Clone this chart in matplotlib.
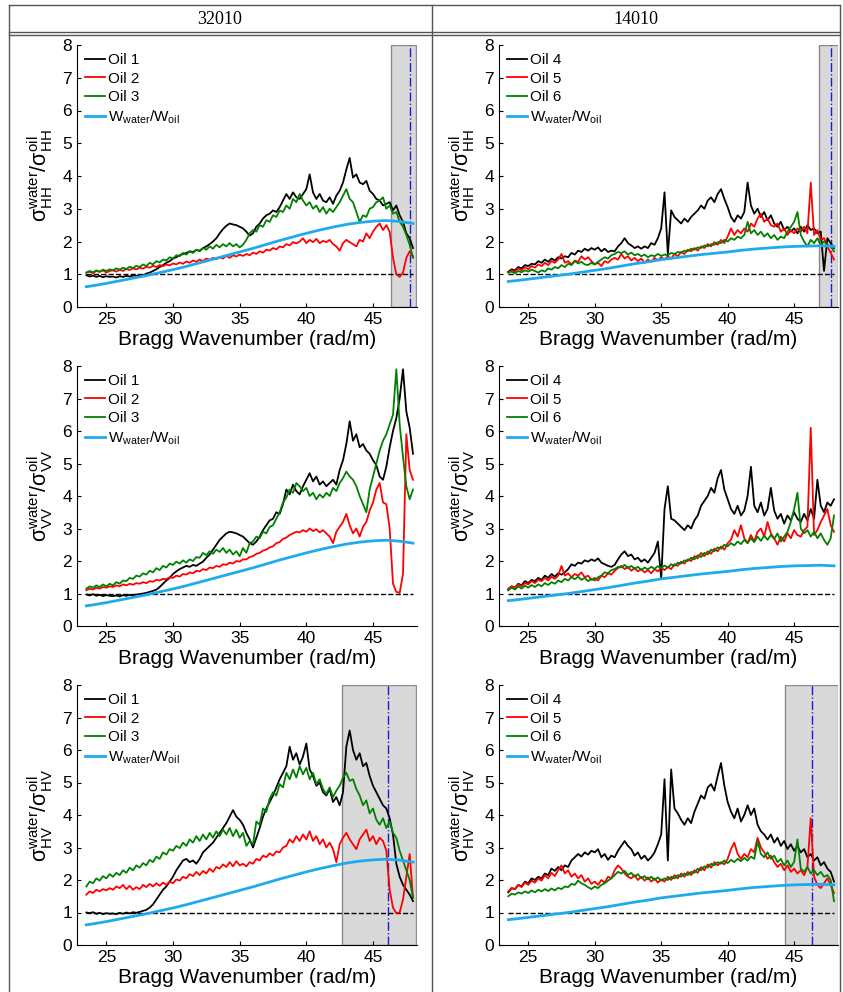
import numpy as np
import matplotlib
matplotlib.use('Agg')
import matplotlib.pyplot as plt
from matplotlib.lines import Line2D

plt.rcParams['font.family'] = ['Liberation Sans', 'DejaVu Sans']
plt.rcParams['mathtext.fontset'] = 'custom'
plt.rcParams['mathtext.rm'] = 'Liberation Sans'
plt.rcParams['mathtext.it'] = 'Liberation Sans:italic'
plt.rcParams['mathtext.bf'] = 'Liberation Sans:bold'

# Bragg wavenumber grid (rad/m) for the measured ratios
k = np.arange(23.5, 48.001, 0.25)

# damping ratio W_water/W_oil (smooth model curve), one per column
k_w = [23.5, 24, 25, 26, 27, 28, 29, 30, 31, 32, 33, 34, 35, 36,
       37, 38, 39, 40, 41, 42, 43, 44, 45, 46, 47, 48]
w_32010 = [0.62, 0.65, 0.72, 0.80, 0.88, 0.96, 1.05, 1.14, 1.24, 1.35, 1.46, 1.57, 1.68,
           1.79, 1.91, 2.03, 2.14, 2.25, 2.35, 2.44, 2.52, 2.58, 2.62, 2.64, 2.61, 2.55]
w_14010 = [0.78, 0.80, 0.85, 0.90, 0.95, 1.00, 1.06, 1.12, 1.18, 1.25, 1.32, 1.38, 1.45,
           1.50, 1.55, 1.60, 1.64, 1.68, 1.73, 1.77, 1.80, 1.83, 1.85, 1.86, 1.87, 1.85]

# ---- HH, scene 32010
hh_oil1 = [0.97, 0.93, 0.96, 0.92, 0.95, 0.91, 0.94, 0.92,
           0.93, 0.90, 0.94, 0.92, 0.95, 0.93, 0.96, 0.95,
           0.98, 0.96, 1.02, 1.05, 1.10, 1.15, 1.22, 1.28,
           1.35, 1.40, 1.48, 1.52, 1.58, 1.62, 1.65, 1.70,
           1.68, 1.74, 1.72, 1.80, 1.85, 1.92, 2.00, 2.10,
           2.25, 2.38, 2.48, 2.55, 2.52, 2.50, 2.45, 2.40,
           2.30, 2.18, 2.25, 2.45, 2.55, 2.70, 2.80, 2.85,
           2.95, 2.90, 3.05, 3.25, 3.45, 3.30, 3.50, 3.35,
           3.30, 3.45, 3.60, 4.05, 3.50, 3.30, 3.45, 3.25,
           3.20, 3.35, 3.15, 3.40, 3.55, 3.80, 4.20, 4.55,
           3.95, 4.05, 3.80, 3.75, 3.85, 3.55, 3.45, 3.30,
           3.25, 3.10, 3.15, 3.20, 2.95, 3.10, 2.80, 2.60,
           2.25, 2.10, 1.80]
hh_oil2 = [1.05, 1.08, 1.03, 1.10, 1.07, 1.12, 1.05, 1.10,
           1.12, 1.08, 1.14, 1.10, 1.16, 1.13, 1.18, 1.15,
           1.20, 1.17, 1.23, 1.20, 1.26, 1.22, 1.28, 1.25,
           1.30, 1.27, 1.33, 1.30, 1.36, 1.32, 1.39, 1.35,
           1.42, 1.38, 1.45, 1.40, 1.48, 1.44, 1.50, 1.46,
           1.52, 1.48, 1.56, 1.50, 1.58, 1.54, 1.60, 1.56,
           1.62, 1.58, 1.66, 1.62, 1.70, 1.66, 1.75, 1.72,
           1.80, 1.76, 1.85, 1.82, 1.92, 1.88, 1.98, 1.94,
           2.00, 2.10, 1.95, 2.05, 1.98, 2.08, 1.95, 2.02,
           1.98, 2.05, 1.92, 1.85, 1.72, 1.95, 2.05, 1.98,
           1.92, 1.85, 2.05, 2.00, 2.25, 2.10, 2.30, 2.45,
           2.55, 2.35, 2.50, 2.30, 1.50, 1.00, 0.92, 1.05,
           1.50, 1.70, 1.55]
hh_oil3 = [1.05, 1.10, 1.06, 1.12, 1.08, 1.14, 1.10, 1.15,
           1.12, 1.18, 1.14, 1.20, 1.16, 1.23, 1.19, 1.26,
           1.22, 1.30, 1.25, 1.35, 1.30, 1.40, 1.36, 1.45,
           1.42, 1.52, 1.48, 1.58, 1.55, 1.65, 1.60, 1.70,
           1.65, 1.75, 1.70, 1.80, 1.75, 1.85, 1.78, 1.90,
           1.82, 1.92, 1.85, 1.95, 1.85, 1.92, 1.82, 1.90,
           2.05, 2.25, 2.35, 2.30, 2.50, 2.45, 2.65, 2.60,
           2.80, 2.75, 2.95, 2.90, 3.10, 3.00, 3.30, 3.20,
           3.45, 3.25, 3.10, 3.20, 3.00, 3.10, 2.90, 3.05,
           2.85, 3.00, 2.90, 3.05, 3.20, 3.40, 3.60, 3.30,
           3.20, 2.90, 2.60, 2.80, 2.75, 3.00, 3.05, 3.20,
           3.25, 3.35, 3.00, 3.10, 2.85, 2.90, 2.60, 2.45,
           2.20, 1.90, 1.50]

# ---- HH, scene 14010
hh_oil4 = [1.08, 1.15, 1.12, 1.22, 1.18, 1.28, 1.25, 1.32,
           1.30, 1.40, 1.35, 1.45, 1.38, 1.48, 1.42, 1.52,
           1.48, 1.55, 1.52, 1.65, 1.60, 1.72, 1.68, 1.78,
           1.72, 1.80, 1.75, 1.82, 1.70, 1.78, 1.68, 1.72,
           1.70, 1.85, 1.95, 2.10, 1.95, 1.88, 1.80, 1.85,
           1.78, 1.85, 1.80, 1.95, 1.90, 2.10, 2.40, 3.50,
           1.60, 2.95, 2.75, 2.65, 2.55, 2.70, 2.60, 2.75,
           2.85, 2.95, 3.10, 3.00, 3.25, 3.35, 3.20, 3.45,
           3.60, 3.30, 3.05, 2.75, 2.60, 2.80, 2.70, 2.90,
           3.80, 3.10, 2.85, 3.00, 2.75, 2.90, 2.65, 2.80,
           2.55, 2.45, 2.60, 2.35, 2.45, 2.30, 2.40, 2.25,
           2.45, 2.30, 2.50, 2.35, 2.40, 2.25, 2.30, 1.10,
           2.10, 1.95, 1.80]
hh_oil5 = [1.05, 1.12, 1.08, 1.18, 1.12, 1.22, 1.15, 1.25,
           1.20, 1.30, 1.25, 1.35, 1.28, 1.40, 1.35, 1.45,
           1.62, 1.35, 1.40, 1.30, 1.42, 1.38, 1.55, 1.45,
           1.52, 1.40, 1.30, 1.35, 1.25, 1.40, 1.35, 1.45,
           1.50, 1.45, 1.62, 1.48, 1.55, 1.42, 1.50, 1.40,
           1.48, 1.35, 1.45, 1.38, 1.50, 1.42, 1.52, 1.45,
           1.55, 1.48, 1.62, 1.55, 1.68, 1.62, 1.75, 1.70,
           1.80, 1.72, 1.85, 1.80, 1.92, 1.85, 1.98, 1.90,
           2.05, 1.95, 2.15, 2.40, 2.20, 2.35, 2.25, 2.40,
           2.30, 2.55, 2.45, 2.70, 2.85, 2.60, 2.70, 2.50,
           2.45, 2.55, 2.30, 2.40, 2.20, 2.35, 2.25, 2.40,
           2.30, 2.45, 2.25, 3.80, 2.20, 2.35, 2.05, 2.10,
           1.85, 1.65, 1.45]
hh_oil6 = [1.05, 1.08, 1.03, 1.10, 1.06, 1.12, 1.08, 1.14,
           1.10, 1.05, 1.12, 1.08, 1.18, 1.14, 1.22, 1.18,
           1.28, 1.22, 1.32, 1.28, 1.40, 1.33, 1.38, 1.30,
           1.28, 1.35, 1.30, 1.38, 1.45, 1.52, 1.48, 1.58,
           1.62, 1.68, 1.65, 1.70, 1.60, 1.66, 1.58, 1.62,
           1.55, 1.60, 1.52, 1.58, 1.55, 1.62, 1.56, 1.60,
           1.58, 1.65, 1.62, 1.68, 1.66, 1.72, 1.70, 1.78,
           1.75, 1.82, 1.80, 1.88, 1.85, 1.92, 1.90, 1.98,
           1.95, 2.05, 2.00, 2.10, 2.05, 2.15, 2.10, 2.20,
           2.60, 2.25, 2.35, 2.20, 2.30, 2.15, 2.25, 2.10,
           2.20, 2.05, 2.15, 2.10, 2.30, 2.45, 2.60, 2.90,
           2.20, 2.00, 1.85, 2.05, 1.95, 2.10, 1.90, 2.00,
           1.90, 1.85, 1.70]

# ---- VV, scene 32010
vv_oil1 = [0.97, 0.94, 0.98, 0.93, 0.96, 0.92, 0.95, 0.93,
           0.92, 0.94, 0.91, 0.95, 0.93, 0.96, 0.94, 0.97,
           0.98, 1.00, 1.02, 1.05, 1.08, 1.12, 1.20, 1.30,
           1.40, 1.48, 1.60, 1.68, 1.75, 1.80, 1.85, 1.82,
           1.88, 1.85, 1.92, 1.98, 2.10, 2.20, 2.35, 2.50,
           2.65, 2.75, 2.85, 2.90, 2.88, 2.85, 2.80, 2.75,
           2.65, 2.55, 2.50, 2.60, 2.75, 2.95, 3.10, 3.25,
           3.30, 3.50, 3.45, 3.75, 4.20, 4.05, 4.35, 4.15,
           4.05, 4.30, 4.50, 4.70, 4.45, 4.60, 4.35, 4.45,
           4.30, 4.40, 4.50, 4.35, 4.80, 5.10, 5.60, 6.30,
           5.70, 5.90, 5.50, 5.60, 5.40, 5.30, 5.10, 4.95,
           4.60, 4.50, 4.90, 5.50, 6.00, 6.40, 7.00, 7.90,
           6.60, 6.10, 5.30]
vv_oil2 = [1.10, 1.15, 1.12, 1.18, 1.15, 1.20, 1.18, 1.22,
           1.20, 1.25, 1.22, 1.28, 1.25, 1.30, 1.27, 1.32,
           1.30, 1.35, 1.32, 1.38, 1.36, 1.42, 1.40, 1.45,
           1.44, 1.50, 1.48, 1.55, 1.52, 1.60, 1.58, 1.65,
           1.62, 1.70, 1.68, 1.75, 1.72, 1.80, 1.78, 1.85,
           1.82, 1.90, 1.88, 1.95, 1.92, 2.00, 1.98, 2.05,
           2.05, 2.12, 2.15, 2.22, 2.25, 2.32, 2.35, 2.42,
           2.45, 2.55, 2.58, 2.68, 2.72, 2.80, 2.85, 2.90,
           2.88, 2.95, 2.90, 3.00, 2.92, 2.98, 2.88, 2.95,
           2.85, 2.75, 2.55, 2.90, 3.05, 3.20, 3.45, 3.10,
           2.85, 3.00, 2.75, 3.05, 3.20, 3.55, 3.80, 4.20,
           4.40, 3.80, 3.75, 3.00, 1.30, 1.05, 1.02, 1.60,
           5.90, 4.80, 4.50]
vv_oil3 = [1.15, 1.22, 1.18, 1.25, 1.20, 1.28, 1.22, 1.30,
           1.25, 1.35, 1.30, 1.40, 1.38, 1.48, 1.45, 1.55,
           1.52, 1.62, 1.58, 1.70, 1.65, 1.78, 1.72, 1.85,
           1.80, 1.92, 1.88, 1.98, 1.92, 2.02, 1.95, 2.05,
           2.00, 2.12, 2.10, 2.25, 2.18, 2.30, 2.22, 2.35,
           2.28, 2.40, 2.25, 2.35, 2.20, 2.30, 2.15, 2.40,
           2.25, 2.55, 2.60, 2.75, 2.70, 2.90, 2.85, 3.05,
           3.10, 3.30, 3.50, 3.80, 3.95, 4.20, 4.10, 4.40,
           4.30, 4.15, 4.25, 4.00, 4.10, 3.90, 4.05, 3.95,
           4.10, 4.00, 4.25, 4.15, 4.40, 4.55, 4.75, 4.60,
           4.50, 4.30, 4.00, 3.75, 3.50, 4.20, 4.60, 5.00,
           5.40, 5.70, 5.90, 6.20, 6.50, 7.90, 6.20, 5.20,
           4.30, 3.90, 4.20]

# ---- VV, scene 14010
vv_oil4 = [1.12, 1.22, 1.18, 1.30, 1.25, 1.38, 1.32, 1.42,
           1.38, 1.48, 1.42, 1.55, 1.48, 1.60, 1.52, 1.62,
           1.58, 1.65, 1.75, 1.90, 1.85, 1.95, 1.92, 2.02,
           1.98, 2.05, 2.00, 2.08, 1.95, 1.90, 1.85, 1.82,
           1.88, 2.05, 2.20, 2.30, 2.15, 2.20, 2.05, 2.10,
           1.98, 2.05, 1.95, 2.10, 2.25, 2.60, 1.45, 3.60,
           4.30, 3.30, 3.25, 3.15, 3.05, 2.95, 3.10, 3.00,
           3.25, 3.40, 3.70, 3.85, 4.00, 4.25, 4.10, 4.55,
           4.80, 4.20, 3.90, 3.60, 3.45, 3.70, 3.40, 3.55,
           4.00, 4.90, 3.70, 3.50, 3.80, 3.40, 3.60, 4.25,
           3.55, 3.30, 3.45, 3.15, 3.40, 3.25, 3.50, 3.30,
           3.20, 3.45, 3.25, 3.60, 3.30, 4.50, 3.70, 3.50,
           3.80, 3.70, 3.90]
vv_oil5 = [1.15, 1.22, 1.18, 1.28, 1.22, 1.32, 1.28, 1.38,
           1.32, 1.42, 1.38, 1.48, 1.40, 1.52, 1.45, 1.55,
           1.85, 1.55, 1.62, 1.50, 1.60, 1.55, 1.65, 1.50,
           1.55, 1.42, 1.48, 1.40, 1.55, 1.50, 1.62, 1.58,
           1.70, 1.78, 1.85, 1.75, 1.82, 1.70, 1.78, 1.68,
           1.75, 1.65, 1.72, 1.62, 1.75, 1.68, 1.80, 1.72,
           1.82, 1.75, 1.90, 1.85, 1.98, 1.92, 2.05, 2.00,
           2.15, 2.08, 2.25, 2.15, 2.30, 2.22, 2.38, 2.30,
           2.45, 2.35, 2.55, 2.65, 2.95, 2.75, 3.10, 2.70,
           2.55, 2.80, 2.60, 2.90, 3.00, 2.75, 3.20, 2.85,
           2.70, 2.50, 2.75, 2.60, 2.85, 2.70, 2.95, 2.80,
           2.75, 2.95, 3.05, 6.10, 2.80, 2.95, 3.20, 3.40,
           3.60, 3.10, 2.90]
vv_oil6 = [1.10, 1.18, 1.12, 1.22, 1.15, 1.24, 1.18, 1.26,
           1.20, 1.28, 1.22, 1.32, 1.26, 1.35, 1.30, 1.40,
           1.35, 1.45, 1.40, 1.50, 1.44, 1.52, 1.42, 1.48,
           1.38, 1.45, 1.40, 1.50, 1.55, 1.65, 1.62, 1.72,
           1.75, 1.82, 1.80, 1.88, 1.78, 1.85, 1.76, 1.82,
           1.72, 1.80, 1.74, 1.82, 1.76, 1.84, 1.78, 1.86,
           1.80, 1.90, 1.85, 1.95, 1.92, 2.02, 2.00, 2.10,
           2.05, 2.18, 2.12, 2.25, 2.20, 2.35, 2.30, 2.42,
           2.38, 2.50, 2.45, 2.55, 2.48, 2.60, 2.52, 2.65,
           2.55, 2.70, 2.58, 2.75, 2.62, 2.78, 2.65, 2.80,
           2.68, 2.85, 2.60, 2.75, 2.90, 3.20, 3.60, 4.10,
           3.00, 2.85, 2.95, 2.75, 2.90, 2.70, 2.85, 2.65,
           2.50, 2.70, 3.40]

# ---- HV, scene 32010
hv_oil1 = [1.00, 0.98, 1.01, 0.96, 0.99, 0.95, 0.98, 0.96,
           0.97, 0.95, 0.99, 0.96, 1.00, 0.97, 1.01, 0.99,
           1.02, 1.05, 1.08, 1.15, 1.25, 1.40, 1.55, 1.70,
           1.80, 1.95, 2.10, 2.30, 2.45, 2.60, 2.65, 2.55,
           2.60, 2.50, 2.65, 2.85, 2.95, 3.05, 3.15, 3.30,
           3.45, 3.60, 3.75, 3.95, 4.15, 3.95, 3.85, 3.70,
           3.45, 3.25, 3.00, 3.30, 3.60, 3.95, 4.20, 4.40,
           4.60, 4.85, 5.10, 5.30, 5.50, 6.10, 5.70, 5.90,
           5.55, 5.80, 6.20, 5.40, 5.20, 4.90, 5.00, 4.70,
           4.60, 4.80, 4.40, 4.55, 4.30, 4.70, 6.10, 6.60,
           6.00, 5.70, 5.90, 5.50, 5.60, 5.20, 4.90, 4.70,
           4.50, 4.30, 4.20, 3.90, 3.40, 2.50, 2.10, 1.85,
           1.70, 1.55, 1.35]
hv_oil2 = [1.55, 1.65, 1.60, 1.70, 1.65, 1.72, 1.68, 1.75,
           1.70, 1.80, 1.75, 1.85, 1.72, 1.82, 1.70, 1.78,
           1.72, 1.85, 1.78, 1.88, 1.80, 1.90, 1.82, 1.92,
           1.85, 1.95, 1.90, 2.02, 1.98, 2.10, 2.05, 2.18,
           2.12, 2.25, 2.15, 2.28, 2.20, 2.35, 2.25, 2.40,
           2.35, 2.48, 2.40, 2.55, 2.42, 2.58, 2.45, 2.50,
           2.42, 2.55, 2.50, 2.65, 2.60, 2.75, 2.70, 2.82,
           2.75, 2.88, 2.85, 3.00, 3.05, 3.25, 3.15, 3.35,
           3.20, 3.40, 3.25, 3.50, 3.20, 3.35, 3.10, 3.25,
           3.00, 3.15, 2.95, 2.55, 3.10, 3.30, 3.45, 3.25,
           3.10, 2.95, 3.25, 3.40, 3.55, 3.20, 3.35, 3.10,
           3.30, 3.20, 2.90, 1.70, 1.15, 0.98, 1.00, 1.40,
           2.10, 2.80, 1.45]
hv_oil3 = [1.80, 1.95, 1.90, 2.05, 1.98, 2.12, 2.05, 2.18,
           2.10, 2.22, 2.15, 2.30, 2.22, 2.38, 2.30, 2.45,
           2.38, 2.52, 2.45, 2.62, 2.55, 2.72, 2.65, 2.85,
           2.78, 2.95, 2.90, 3.05, 2.98, 3.15, 3.05, 3.25,
           3.15, 3.35, 3.20, 3.40, 3.25, 3.45, 3.30, 3.50,
           3.35, 3.55, 3.40, 3.60, 3.35, 3.55, 3.30, 3.45,
           3.05, 3.20, 3.10, 3.80, 3.70, 4.20, 4.10, 4.50,
           4.70, 4.60, 4.95, 4.85, 5.30, 5.10, 5.40, 5.15,
           5.50, 5.25, 5.45, 5.10, 5.30, 4.95, 5.10, 4.80,
           4.65, 4.85, 4.55, 4.75, 4.90, 5.15, 5.30, 5.05,
           5.10, 4.80, 4.60, 4.30, 4.45, 4.05, 4.20, 3.85,
           3.70, 3.90, 3.60, 3.80, 3.45, 3.30, 2.90, 2.60,
           2.30, 2.00, 1.45]

# ---- HV, scene 14010
hv_oil4 = [1.62, 1.75, 1.72, 1.85, 1.80, 1.95, 1.90, 2.05,
           2.00, 2.10, 2.05, 2.20, 2.15, 2.35, 2.28, 2.40,
           2.30, 2.45, 2.40, 2.60, 2.70, 2.80, 2.72, 2.85,
           2.78, 2.90, 2.85, 2.95, 2.70, 2.80, 2.62, 2.75,
           2.70, 2.90, 3.05, 3.20, 3.05, 2.95, 2.75, 2.85,
           2.65, 2.75, 2.60, 2.70, 2.85, 3.10, 3.40, 5.10,
           2.60, 5.40, 4.20, 4.05, 3.85, 3.70, 3.90, 3.75,
           4.10, 4.35, 4.60, 4.50, 4.85, 4.95, 4.75, 5.20,
           5.60, 4.90, 4.40, 4.10, 3.90, 4.20, 3.80, 4.00,
           4.30, 4.00, 4.20, 3.70, 3.50, 3.40, 3.25, 3.40,
           3.15, 3.30, 3.05, 3.20, 2.95, 3.10, 2.90, 3.05,
           2.85, 2.95, 2.70, 2.80, 2.60, 2.70, 2.45, 2.55,
           2.35, 2.25, 1.95]
hv_oil5 = [1.65, 1.75, 1.72, 1.85, 1.78, 1.92, 1.85, 1.98,
           1.92, 2.05, 1.98, 2.15, 2.05, 2.22, 2.12, 2.30,
           2.45, 2.20, 2.30, 2.10, 2.20, 2.05, 2.15, 1.95,
           2.05, 1.88, 1.95, 1.85, 2.00, 1.92, 2.10, 2.05,
           2.30, 2.45, 2.35, 2.20, 2.10, 2.05, 2.15, 2.00,
           2.10, 1.98, 2.08, 1.95, 2.05, 1.92, 2.02, 1.95,
           2.10, 2.00, 2.15, 2.05, 2.20, 2.10, 2.25, 2.15,
           2.30, 2.22, 2.40, 2.30, 2.48, 2.38, 2.55, 2.45,
           2.55, 2.48, 2.65, 2.95, 3.15, 2.80, 2.65, 2.80,
           2.70, 2.95, 2.85, 3.30, 3.00, 2.85, 2.65, 2.75,
           2.55, 2.40, 2.50, 2.30, 2.45, 2.25, 2.35, 2.20,
           2.30, 2.15, 2.40, 3.90, 2.10, 1.85, 1.75, 1.90,
           2.05, 1.85, 1.60]
hv_oil6 = [1.50, 1.58, 1.55, 1.62, 1.58, 1.65, 1.60, 1.68,
           1.62, 1.70, 1.65, 1.72, 1.66, 1.74, 1.68, 1.76,
           1.72, 1.80, 1.78, 1.88, 1.85, 1.98, 1.90, 1.85,
           1.78, 1.72, 1.80, 1.75, 1.85, 1.90, 1.98, 2.05,
           2.15, 2.25, 2.20, 2.28, 2.15, 2.22, 2.10, 2.18,
           2.05, 2.12, 2.02, 2.10, 2.00, 2.08, 1.98, 2.05,
           2.00, 2.10, 2.05, 2.15, 2.10, 2.20, 2.15, 2.25,
           2.22, 2.35, 2.30, 2.42, 2.38, 2.50, 2.45, 2.55,
           2.50, 2.60, 2.52, 2.62, 2.55, 2.65, 2.58, 2.68,
           2.60, 2.72, 2.65, 3.20, 2.80, 2.70, 2.85, 2.65,
           2.75, 2.55, 2.65, 2.45, 2.60, 2.40, 2.55, 3.25,
           2.35, 2.25, 2.40, 2.20, 2.30, 2.15, 2.25, 2.10,
           2.15, 2.00, 1.35]

# masked (grey) band and its centre line, None when not shown
shade_hh_32010 = (46.35, 48.25, 47.8)
shade_hh_14010 = (46.9, 48.3, 47.8)
shade_hv_32010 = (42.65, 48.25, 46.1)
shade_hv_14010 = (44.3, 48.3, 46.35)

pols = ['HH', 'VV', 'HV']
scenes = ['32010', '14010']
oil_names = [['Oil 1', 'Oil 2', 'Oil 3'], ['Oil 4', 'Oil 5', 'Oil 6']]
ratios = {
    ('HH', 0): (hh_oil1, hh_oil2, hh_oil3, w_32010, shade_hh_32010),
    ('HH', 1): (hh_oil4, hh_oil5, hh_oil6, w_14010, shade_hh_14010),
    ('VV', 0): (vv_oil1, vv_oil2, vv_oil3, w_32010, None),
    ('VV', 1): (vv_oil4, vv_oil5, vv_oil6, w_14010, None),
    ('HV', 0): (hv_oil1, hv_oil2, hv_oil3, w_32010, shade_hv_32010),
    ('HV', 1): (hv_oil4, hv_oil5, hv_oil6, w_14010, shade_hv_14010),
}

W, H = 843, 992
fig = plt.figure(figsize=(W / 100, H / 100), dpi=100)

def rect(x0, top, x1, bottom):
    return [x0 / W, 1 - bottom / H, (x1 - x0) / W, (bottom - top) / H]

col_x = [(77, 417), (499, 838)]
row_y = [(45, 307), (366, 626), (685, 945)]
colors = ['k', '#ff0000', '#008000']
cyan = '#20aaee'

for r, pol in enumerate(pols):
    for c in range(2):
        o1, o2, o3, w, shade = ratios[(pol, c)]
        ax = fig.add_axes(rect(col_x[c][0], row_y[r][0], col_x[c][1], row_y[r][1]))
        if shade is not None:
            ax.axvspan(shade[0], shade[1], facecolor='#d9d9d9', edgecolor='#8a8a8a',
                       lw=1, zorder=0)
            ax.axvline(shade[2], color='#1a1ad6', ls='-.', lw=1, zorder=1)
        ax.hlines(1, k[0], k[-1], colors='k', linestyles='--', lw=1, zorder=2)
        for series, col, name in zip((o1, o2, o3), colors, oil_names[c]):
            ax.plot(k, series, color=col, lw=1.3, label=name, zorder=3)
        ax.plot(k_w, w, color=cyan, lw=2, label=r'$\mathregular{W_{water}/W_{oil}}$', zorder=4)

        ax.set_xlim(22.8, 48.3)
        ax.set_ylim(0, 8)
        ax.set_xticks([25, 30, 35, 40, 45])
        ax.set_yticks(range(9))
        ax.spines['top'].set_visible(False)
        ax.spines['right'].set_visible(False)
        ax.tick_params(direction='in', length=3, labelsize=12.5, pad=3.5)
        ax.set_xlabel('Bragg Wavenumber (rad/m)', fontsize=15, labelpad=2)
        ax.set_ylabel(r'$\mathregular{σ^{water}_{%s}/σ^{oil}_{%s}}$' % (pol, pol),
                      fontsize=15.5, labelpad=5)
        ax.legend(loc='upper left', frameon=False, fontsize=11, handlelength=1.3,
                  handletextpad=0.2, labelspacing=0.28, borderaxespad=0.25, borderpad=0.3)

# table frame around the panels
line_kw = dict(color='#555555', lw=1, transform=fig.transFigure)
def hline(y, x0=9, x1=840):
    fig.add_artist(Line2D([x0 / W, x1 / W], [1 - y / H, 1 - y / H], **line_kw))
def vline(x, y0=5, y1=992):
    fig.add_artist(Line2D([x / W, x / W], [1 - y0 / H, 1 - y1 / H], **line_kw))

hline(5)
hline(32)
hline(35)
vline(9)
vline(840)
vline(432)

fig.text(220 / W, 1 - 19 / H, scenes[0], ha='center', va='center',
         family='Liberation Serif', fontsize=13)
fig.text(636 / W, 1 - 19 / H, scenes[1], ha='center', va='center',
         family='Liberation Serif', fontsize=13)

fig.savefig('out.png', dpi=100)
